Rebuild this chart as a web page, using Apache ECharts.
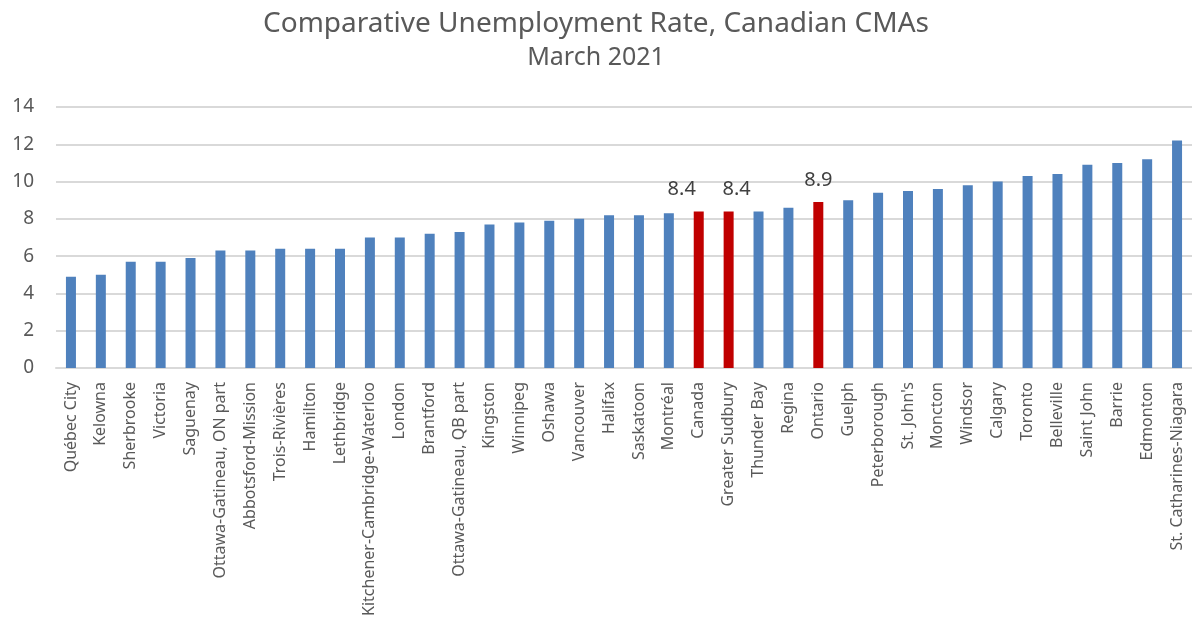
<!DOCTYPE html>
<html>
<head>
<meta charset="utf-8">
<script src="https://cdn.jsdelivr.net/npm/echarts@6/dist/echarts.min.js"></script>
<style>
  html, body { margin: 0; padding: 0; background: #fff; }
  #chart { width: 1192px; height: 619px; }
</style>
</head>
<body>
<div id="chart"></div>
<script>
const cities = [
  'Québec City', 'Kelowna', 'Sherbrooke', 'Victoria', 'Saguenay',
  'Ottawa-Gatineau, ON part', 'Abbotsford-Mission', 'Trois-Rivières', 'Hamilton', 'Lethbridge',
  'Kitchener-Cambridge-Waterloo', 'London', 'Brantford', 'Ottawa-Gatineau, QB part', 'Kingston',
  'Winnipeg', 'Oshawa', 'Vancouver', 'Halifax', 'Saskatoon',
  'Montréal', 'Canada', 'Greater Sudbury', 'Thunder Bay', 'Regina',
  'Ontario', 'Guelph', 'Peterborough', "St. John's", 'Moncton',
  'Windsor', 'Calgary', 'Toronto', 'Belleville', 'Saint John',
  'Barrie', 'Edmonton', 'St. Catharines-Niagara'
];
const rates = [
  4.9, 5.0, 5.7, 5.7, 5.9,
  6.3, 6.3, 6.4, 6.4, 6.4,
  7.0, 7.0, 7.2, 7.3, 7.7,
  7.8, 7.9, 8.0, 8.2, 8.2,
  8.3, 8.4, 8.4, 8.4, 8.6,
  8.9, 9.0, 9.4, 9.5, 9.6,
  9.8, 10.0, 10.3, 10.4, 10.9,
  11.0, 11.2, 12.2
];
// highlighted bars (red, with value label); labels nudged sideways like the original
const highlighted = ['Canada', 'Greater Sudbury', 'Ontario'];
const labelShift = { 'Canada': -17, 'Greater Sudbury': 8, 'Ontario': 0 };

const chart = echarts.init(document.getElementById('chart'));

const font = '"Noto Sans", sans-serif';

const data = rates.map((v, i) => {
  const hi = highlighted.includes(cities[i]);
  return {
    value: v,
    itemStyle: { color: hi ? '#C00000' : '#4F81BD' },
    label: { show: hi, offset: [labelShift[cities[i]] || 0, 0] }
  };
});

chart.setOption({
  animation: false,
  textStyle: { fontFamily: font },
  title: [
    {
      text: 'Comparative Unemployment Rate, Canadian CMAs',
      left: 'center',
      top: 5,
      textStyle: { fontFamily: font, fontSize: 28, fontWeight: 'normal', color: '#595959' }
    },
    {
      text: 'March 2021',
      left: 'center',
      top: 40,
      textStyle: { fontFamily: font, fontSize: 25, fontWeight: 'normal', color: '#595959' }
    }
  ],
  grid: {
    left: 56,
    right: -6,
    top: 107,
    bottom: 250
  },
  xAxis: {
    type: 'category',
    data: cities,
    axisLine: { lineStyle: { color: '#D9D9D9', width: 2 } },
    axisTick: { show: false },
    axisLabel: {
      rotate: 90,
      interval: 0,
      margin: 14,
      fontSize: 16,
      color: '#595959',
      fontFamily: font
    }
  },
  yAxis: {
    type: 'value',
    min: 0,
    max: 14,
    interval: 2,
    axisLine: { show: false },
    axisTick: { show: false },
    axisLabel: { fontSize: 19, color: '#595959', margin: 22, fontFamily: font },
    splitLine: { lineStyle: { color: '#D9D9D9', width: 2 } }
  },
  series: [
    {
      type: 'bar',
      data: data,
      barWidth: 10,
      label: {
        position: 'top',
        distance: 12,
        fontSize: 20,
        color: '#404040',
        fontFamily: font,
        formatter: p => p.value.toFixed(1)
      }
    }
  ]
});
</script>
</body>
</html>
